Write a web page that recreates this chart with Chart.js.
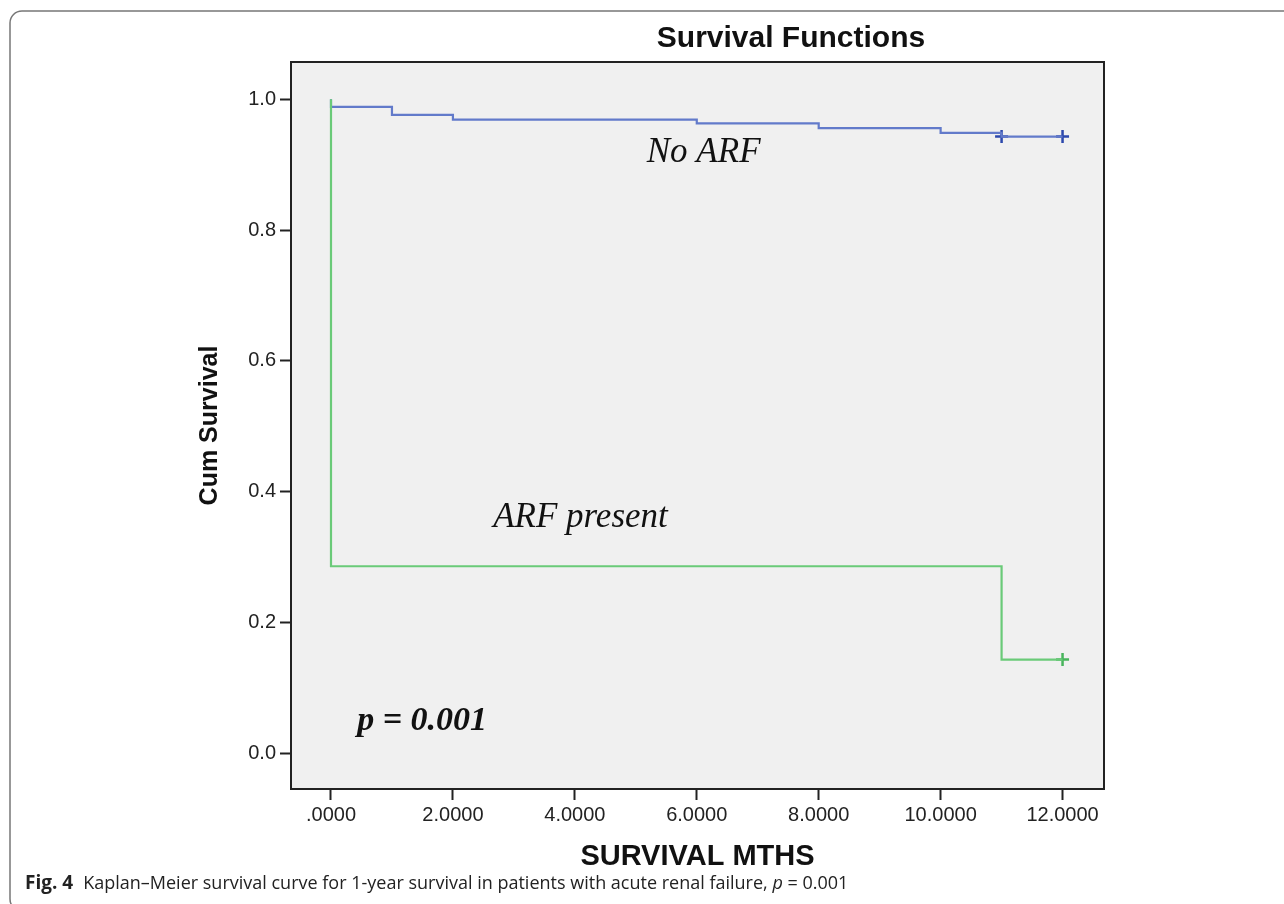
<!DOCTYPE html>
<html>
<head>
<meta charset="utf-8">
<script src="https://cdn.jsdelivr.net/npm/chart.js"></script>
<style>
  html, body { margin: 0; padding: 0; background: #fff; }
</style>
</head>
<body>
<div style="width:1284px;height:904px;">
  <canvas id="myChart" width="1284" height="904"></canvas>
</div>

<script>
// Kaplan-Meier steps (months, cumulative survival)
const noArfMonths   = [0, 0, 1, 2, 6, 8, 10, 11, 12];
const noArfSurvival = [1.0, 0.9885, 0.976, 0.969, 0.963, 0.956, 0.9485, 0.943, 0.943];
const arfMonths     = [0, 0, 11, 12];
const arfSurvival   = [1.0, 0.2857, 0.1429, 0.1429];

// censored cases (the little + marks)
const noArfCensMonths   = [11, 12];
const noArfCensSurvival = [0.943, 0.943];
const arfCensMonths     = [12];
const arfCensSurvival   = [0.1429];

const xTicks = [0, 2, 4, 6, 8, 10, 12];
const xTickLabels = ['.0000', '2.0000', '4.0000', '6.0000', '8.0000', '10.0000', '12.0000'];
const yTicks = [0, 0.2, 0.4, 0.6, 0.8, 1.0];
const yTickLabels = ['0.0', '0.2', '0.4', '0.6', '0.8', '1.0'];

const pts = (xs, ys) => xs.map((x, i) => ({x: x, y: ys[i]}));

const blue = 'rgb(98,122,202)';
const blueDark = 'rgb(44,72,172)';
const green = 'rgb(106,202,120)';
const greenDark = 'rgb(72,180,92)';

const decor = {
  id: 'decor',
  beforeDraw(chart) {
    const ctx = chart.ctx, a = chart.chartArea;
    ctx.save();
    ctx.fillStyle = '#fff';
    ctx.fillRect(0, 0, chart.width, chart.height);
    ctx.fillStyle = '#f0f0f0';
    ctx.fillRect(a.left, a.top, a.right - a.left, a.bottom - a.top);
    ctx.restore();
  },
  afterDraw(chart) {
    const ctx = chart.ctx, a = chart.chartArea;
    const xs = chart.scales.x, ys = chart.scales.y;
    ctx.save();

    // plot box
    ctx.strokeStyle = '#222';
    ctx.lineWidth = 2;
    ctx.strokeRect(a.left, a.top, a.right - a.left, a.bottom - a.top);

    // title
    ctx.fillStyle = '#111';
    ctx.font = 'bold 30px "Liberation Sans", Arial, sans-serif';
    ctx.textAlign = 'center';
    ctx.textBaseline = 'alphabetic';
    ctx.fillText('Survival Functions', 791, 47);

    // labels inside the plot
    ctx.textAlign = 'left';
    ctx.font = 'italic 35px "Liberation Serif", serif';
    ctx.fillText('No ARF', xs.getPixelForValue(5.18), ys.getPixelForValue(0.9035));
    ctx.fillText('ARF present', xs.getPixelForValue(2.66), ys.getPixelForValue(0.345));
    ctx.font = 'italic bold 34px "Liberation Serif", serif';
    ctx.fillText('p = 0.001', xs.getPixelForValue(0.43), ys.getPixelForValue(0.035));

    // outer frame
    ctx.strokeStyle = '#777';
    ctx.lineWidth = 1.5;
    ctx.beginPath();
    ctx.roundRect(10, 11, 1400, 900, 12);
    ctx.stroke();

    // caption
    const y0 = 889;
    ctx.fillStyle = '#222';
    ctx.font = 'bold 19px "Open Sans", sans-serif';
    ctx.fillText('Fig. 4', 25, y0);
    const startX = 25 + ctx.measureText('Fig. 4').width + 10;
    const reg = '18px "Open Sans", sans-serif';
    const ital = 'italic 18px "Open Sans", sans-serif';
    const parts = [
      [reg, 'Kaplan\u2013Meier survival curve for 1-year survival in patients with acute renal failure, '],
      [ital, 'p'],
      [reg, ' = 0.001']
    ];
    let w = 0;
    parts.forEach(p => { ctx.font = p[0]; w += ctx.measureText(p[1]).width; });
    const sx = Math.min(1, (858 - startX) / w);
    ctx.translate(startX, y0);
    ctx.scale(sx, 1);
    let cx = 0;
    parts.forEach(p => { ctx.font = p[0]; ctx.fillText(p[1], cx, 0); cx += ctx.measureText(p[1]).width; });
    ctx.restore();
  }
};

const data = {
  datasets: [
    {
      label: 'ARF present',
      data: pts(arfMonths, arfSurvival),
      borderColor: green,
      borderWidth: 2.2,
      stepped: 'before',
      pointRadius: 0,
      fill: false
    },
    {
      label: 'No ARF',
      data: pts(noArfMonths, noArfSurvival),
      borderColor: blue,
      borderWidth: 2.2,
      stepped: 'before',
      pointRadius: 0,
      fill: false
    },
    {
      label: 'ARF present-censored',
      data: pts(arfCensMonths, arfCensSurvival),
      showLine: false,
      pointStyle: 'cross',
      pointRadius: 6.5,
      borderColor: greenDark,
      borderWidth: 2.5
    },
    {
      label: 'No ARF-censored',
      data: pts(noArfCensMonths, noArfCensSurvival),
      showLine: false,
      pointStyle: 'cross',
      pointRadius: 6.5,
      borderColor: blueDark,
      borderWidth: 2.5
    }
  ]
};

const tickFont = {family: '"Liberation Sans", Arial, sans-serif', size: 20};

const config = {
  type: 'line',
  data: data,
  options: {
    responsive: false,
    animation: false,
    layout: { padding: {left: 0, top: 62, right: 180, bottom: 0} },
    plugins: {
      legend: { display: false },
      tooltip: { enabled: false }
    },
    scales: {
      x: {
        type: 'linear',
        min: -0.656,
        max: 12.68,
        afterBuildTicks: (s) => { s.ticks = xTicks.map(v => ({value: v})); },
        afterFit: (s) => { s.height = 115; },
        ticks: {
          callback: (v, i) => xTickLabels[i],
          font: tickFont,
          color: '#222',
          padding: 3,
          autoSkip: false,
          maxRotation: 0
        },
        grid: { drawOnChartArea: false, drawTicks: true, tickLength: 11, tickColor: '#222', tickWidth: 2 },
        border: { display: true, color: '#222', width: 2 },
        title: {
          display: true,
          text: 'SURVIVAL MTHS',
          color: '#111',
          font: {family: '"Liberation Sans", Arial, sans-serif', size: 29, weight: 'bold'},
          padding: {top: 0, bottom: 30}
        }
      },
      y: {
        type: 'linear',
        min: -0.055,
        max: 1.057,
        afterBuildTicks: (s) => { s.ticks = yTicks.map(v => ({value: v})); },
        afterFit: (s) => { s.width = 291; },
        ticks: {
          callback: (v, i) => yTickLabels[i],
          font: tickFont,
          color: '#222',
          padding: 4
        },
        grid: { drawOnChartArea: false, drawTicks: true, tickLength: 11, tickColor: '#222', tickWidth: 2 },
        border: { display: true, color: '#222', width: 2 },
        title: {
          display: true,
          text: 'Cum Survival',
          color: '#111',
          font: {family: '"Liberation Sans", Arial, sans-serif', size: 25, weight: 'bold'},
          padding: {top: 195, bottom: 0}
        }
      }
    }
  },
  plugins: [decor]
};

var myChart = new Chart(document.getElementById('myChart'), config);
</script>
</body>
</html>
